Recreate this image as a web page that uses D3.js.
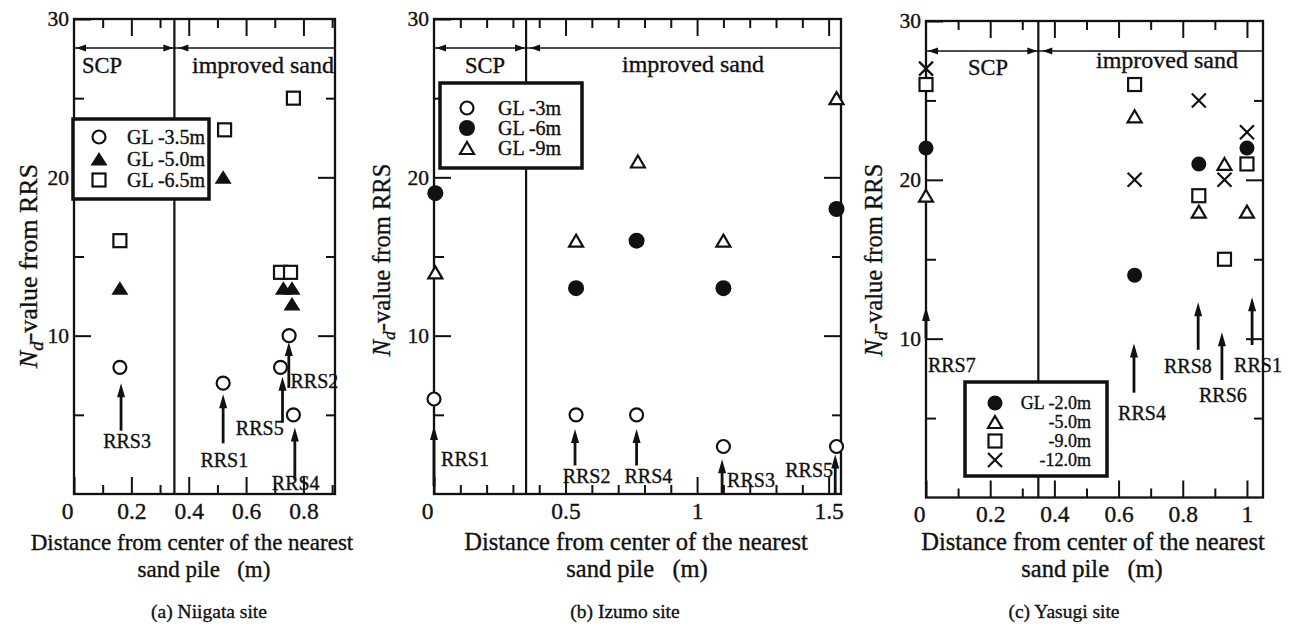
<!DOCTYPE html>
<html>
<head>
<meta charset="utf-8">
<script src="https://cdn.jsdelivr.net/npm/d3@7"></script>
<style>
html, body { margin: 0; background: #fff; }
svg { display: block; font-family: "Liberation Serif", "Times New Roman", Times, serif; }
text { fill: #111; stroke: #111; stroke-width: 0.35px; }
</style>
</head>
<body>
<svg id="chart" width="1291" height="631"></svg>
<script>
// Nd-value from RRS against distance from the nearest sand pile, three sites.
// Values.

// (a) Niigata site
const niigataLabels = ['GL -3.5m', 'GL -5.0m', 'GL -6.5m'];
const niigataGL35x = [0.16, 0.52, 0.72, 0.75, 0.765];
const niigataGL35y = [8, 7, 8, 10, 5];
const niigataGL50x = [0.16, 0.52, 0.73, 0.76, 0.76];
const niigataGL50y = [13, 20, 13, 13, 12];
const niigataGL65x = [0.16, 0.525, 0.72, 0.755, 0.765];
const niigataGL65y = [16, 23, 14, 14, 25];
const niigataRrs = ['RRS3', 'RRS1', 'RRS5', 'RRS2', 'RRS4'];
const niigataRrsX = [0.164, 0.52, 0.727, 0.749, 0.77];
const niigataRrsTail = [4.0, 3.2, 4.5, 6.7, 0.9];
const niigataRrsHead = [7.0, 6.3, 7.4, 9.6, 4.2];
const niigataRrsLabelX = [0.185, 0.524, 0.731, 0.755, 0.773];
const niigataRrsLabelY = [2.9, 1.7, 3.73, 6.7, 0.25];
const niigataRrsAnchor = ['middle', 'middle', 'end', 'start', 'middle'];

// (b) Izumo site
const izumoLabels = ['GL -3m', 'GL -6m', 'GL -9m'];
const izumoGL3x = [0, 0.54, 0.77, 1.1, 1.53];
const izumoGL3y = [6, 5, 5, 3, 3];
const izumoGL6x = [0.005, 0.54, 0.77, 1.1, 1.53];
const izumoGL6y = [19, 13, 16, 13, 18];
const izumoGL9x = [0.005, 0.54, 0.775, 1.1, 1.53];
const izumoGL9y = [14, 16, 21, 16, 25];
const izumoRrs = ['RRS1', 'RRS2', 'RRS4', 'RRS3', 'RRS5'];
const izumoRrsX = [0, 0.536, 0.77, 1.095, 1.525];
const izumoRrsTail = [0.5, 1.8, 1.8, 0, 0];
const izumoRrsHead = [4.3, 4.1, 4.1, 2.2, 2.5];
const izumoRrsLabelX = [0.027, 0.58, 0.815, 1.114, 1.517];
const izumoRrsLabelY = [1.77, 0.7, 0.7, 0.45, 1.07];
const izumoRrsAnchor = ['start', 'middle', 'middle', 'start', 'end'];

// (c) Yasugi site
const yasugiLabels = ['GL -2.0m', '-5.0m', '-9.0m', '-12.0m'];
const yasugiGL2x = [0, 0.65, 0.85, 1.0];
const yasugiGL2y = [22, 14, 21, 22];
const yasugiGL5x = [0, 0.65, 0.85, 0.93, 1.0];
const yasugiGL5y = [19, 24, 18, 21, 18];
const yasugiGL9x = [0, 0.65, 0.85, 0.93, 1.0];
const yasugiGL9y = [26, 26, 19, 15, 21];
const yasugiGL12x = [0, 0.65, 0.85, 0.93, 1.0];
const yasugiGL12y = [27, 20, 25, 20, 23];
const yasugiRrs = ['RRS7', 'RRS4', 'RRS8', 'RRS6', 'RRS1'];
const yasugiRrsX = [0, 0.648, 0.848, 0.922, 1.016];
const yasugiRrsTail = [10, 6.6, 9.3, 7.4, 9.6];
const yasugiRrsHead = [12.0, 9.7, 12.3, 10.4, 12.6];
const yasugiRrsLabelX = [0.006, 0.673, 0.816, 0.925, 0.96];
const yasugiRrsLabelY = [7.9, 4.9, 7.85, 6.0, 7.9];
const yasugiRrsAnchor = ['start', 'middle', 'middle', 'middle', 'start'];

const yMajor = [10, 20, 30];
const yMinor = [5, 15, 25];
const scpEdge = 0.35;

const INK = '#111';

const panels = [
    {
        box: [74, 335, 19, 494], xMax: 0.91,
        xMajor: [0, 0.2, 0.4, 0.6, 0.8], xMinor: [0.1, 0.3, 0.5, 0.7, 0.9],
        series: [
            { xs: niigataGL35x, ys: niigataGL35y, mark: 'circleOpen' },
            { xs: niigataGL65x, ys: niigataGL65y, mark: 'squareOpen' },
            { xs: niigataGL50x, ys: niigataGL50y, mark: 'triangleFilled' },
        ],
        legendOrder: ['circleOpen', 'triangleFilled', 'squareOpen'],
        labels: niigataLabels,
        rrs: [niigataRrs, niigataRrsX, niigataRrsTail, niigataRrsHead, niigataRrsLabelX, niigataRrsLabelY, niigataRrsAnchor],
        legend: { x: 73, y: 119, w: 136, h: 80, markX: 26, textX: 54, rows: [18, 40, 61], size: 20, anchor: 'start' },
        regionY: 48, scp: [82, 73], sand: [192, 73],
        yTitle: [28, 266, 26], xTitle: [192, 204, 23], caption: [209, '(a) Niigata site'],
    },
    {
        box: [434, 841, 19, 494], xMax: 1.547,
        xMajor: [0, 0.5, 1, 1.5], xMinor: [0.1, 0.2, 0.3, 0.4, 0.6, 0.7, 0.8, 0.9, 1.1, 1.2, 1.3, 1.4],
        series: [
            { xs: izumoGL3x, ys: izumoGL3y, mark: 'circleOpen' },
            { xs: izumoGL6x, ys: izumoGL6y, mark: 'circleFilled' },
            { xs: izumoGL9x, ys: izumoGL9y, mark: 'triangleOpen' },
        ],
        legendOrder: ['circleOpen', 'circleFilled', 'triangleOpen'],
        labels: izumoLabels,
        rrs: [izumoRrs, izumoRrsX, izumoRrsTail, izumoRrsHead, izumoRrsLabelX, izumoRrsLabelY, izumoRrsAnchor],
        legend: { x: 440, y: 83, w: 142, h: 85, markX: 27, textX: 58, rows: [25, 45, 65], size: 20, anchor: 'start' },
        regionY: 48, scp: [465, 73], sand: [622, 72],
        yTitle: [381, 260, 24.5], xTitle: [636, 637, 24.5], caption: [625, '(b) Izumo site'],
    },
    {
        box: [926, 1263, 21, 497.5], xMax: 1.05,
        xMajor: [0, 0.2, 0.4, 0.6, 0.8, 1], xMinor: [0.1, 0.3, 0.5, 0.7, 0.9],
        series: [
            { xs: yasugiGL9x, ys: yasugiGL9y, mark: 'squareOpen' },
            { xs: yasugiGL5x, ys: yasugiGL5y, mark: 'triangleOpen' },
            { xs: yasugiGL12x, ys: yasugiGL12y, mark: 'cross' },
            { xs: yasugiGL2x, ys: yasugiGL2y, mark: 'circleFilledSmall' },
        ],
        legendOrder: ['circleFilledSmall', 'triangleOpen', 'squareOpen', 'cross'],
        labels: yasugiLabels,
        rrs: [yasugiRrs, yasugiRrsX, yasugiRrsTail, yasugiRrsHead, yasugiRrsLabelX, yasugiRrsLabelY, yasugiRrsAnchor],
        legend: { x: 965, y: 382, w: 142, h: 94, markX: 30, textX: 126, rows: [21, 40, 59, 78], size: 18, anchor: 'end' },
        regionY: 51, scp: [968, 75], sand: [1096, 68],
        yTitle: [873, 260, 24.5], xTitle: [1093, 1092, 24.5], caption: [1064, '(c) Yasugi site'],
    },
];

const svg = d3.select('#chart');

function drawMark(g, type, cx, cy) {
    const m = g.append('g').attr('transform', `translate(${cx},${cy})`);
    if (type === 'circleOpen') {
        m.append('circle').attr('r', 6.5).attr('fill', '#fff').attr('stroke', INK).attr('stroke-width', 2.2);
    } else if (type === 'circleFilled') {
        m.append('circle').attr('r', 8).attr('fill', INK);
    } else if (type === 'circleFilledSmall') {
        m.append('circle').attr('r', 7.5).attr('fill', INK);
    } else if (type === 'triangleFilled') {
        m.append('path').attr('d', 'M0,-7L8.5,6.5L-8.5,6.5Z').attr('fill', INK);
    } else if (type === 'triangleOpen') {
        m.append('path').attr('d', 'M0,-6L7,6L-7,6Z').attr('fill', '#fff')
            .attr('stroke', INK).attr('stroke-width', 2.2).attr('stroke-linejoin', 'miter');
    } else if (type === 'squareOpen') {
        m.append('rect').attr('x', -6.5).attr('y', -6.5).attr('width', 13).attr('height', 13)
            .attr('fill', '#fff').attr('stroke', INK).attr('stroke-width', 2.2);
    } else if (type === 'cross') {
        m.append('path').attr('d', 'M-7,-7L7,7M-7,7L7,-7').attr('fill', 'none')
            .attr('stroke', INK).attr('stroke-width', 2.2);
    }
}

function upArrow(g, x, yTail, yTip) {
    const headLen = 14, half = 4;
    g.append('line').attr('x1', x).attr('x2', x).attr('y1', yTail).attr('y2', yTip + headLen - 2)
        .attr('stroke', INK).attr('stroke-width', 2.8);
    g.append('path').attr('d', `M${x},${yTip}L${x + half},${yTip + headLen}L${x - half},${yTip + headLen}Z`)
        .attr('fill', INK);
}

function sideHead(g, xTip, y, dir) {
    const len = 10, half = 3.5;
    g.append('path').attr('d', `M${xTip},${y}L${xTip - dir * len},${y - half}L${xTip - dir * len},${y + half}Z`)
        .attr('fill', INK);
}

panels.forEach((p) => {
    const [left, right, top, bottom] = p.box;
    const x = d3.scaleLinear().domain([0, p.xMax]).range([left, right]);
    const y = d3.scaleLinear().domain([0, 30]).range([bottom, top]);
    const g = svg.append('g');

    const styleAxis = (sel) => {
        sel.attr('font-size', null).attr('font-family', null).attr('color', INK);
        sel.select('.domain').remove();
        sel.selectAll('line').attr('stroke-width', 2);
    };

    // bottom / top ticks, pointing inward
    const gx = g.append('g').attr('transform', `translate(0,${bottom})`)
        .call(d3.axisBottom(x).tickValues(p.xMajor).tickSize(-17).tickPadding(8).tickFormat(d3.format('~g')))
        .call(styleAxis);
    gx.selectAll('text').style('font-size', '23.5px').filter((d) => d === 0).attr('dx', -7);
    g.append('g').attr('transform', `translate(0,${bottom})`)
        .call(d3.axisBottom(x).tickValues(p.xMinor).tickSize(-9).tickFormat('')).call(styleAxis);
    g.append('g').attr('transform', `translate(0,${top})`)
        .call(d3.axisTop(x).tickValues(p.xMajor.filter((v) => v > 0)).tickSize(-17).tickFormat('')).call(styleAxis);
    g.append('g').attr('transform', `translate(0,${top})`)
        .call(d3.axisTop(x).tickValues(p.xMinor).tickSize(-9).tickFormat('')).call(styleAxis);

    // left / right ticks
    const gy = g.append('g').attr('transform', `translate(${left},0)`)
        .call(d3.axisLeft(y).tickValues(yMajor).tickSize(-17).tickPadding(5))
        .call(styleAxis);
    gy.selectAll('text').style('font-size', '21.5px');
    g.append('g').attr('transform', `translate(${left},0)`)
        .call(d3.axisLeft(y).tickValues(yMinor).tickSize(-10).tickFormat('')).call(styleAxis);
    g.append('g').attr('transform', `translate(${right},0)`)
        .call(d3.axisRight(y).tickValues(yMajor.filter((v) => v < 30)).tickSize(-17).tickFormat('')).call(styleAxis);
    g.append('g').attr('transform', `translate(${right},0)`)
        .call(d3.axisRight(y).tickValues(yMinor).tickSize(-9).tickFormat('')).call(styleAxis);

    g.append('rect').attr('x', left).attr('y', top).attr('width', right - left).attr('height', bottom - top)
        .attr('fill', 'none').attr('stroke', INK).attr('stroke-width', 2.3);

    // SCP / improved sand boundary
    const xb = x(scpEdge);
    g.append('line').attr('x1', xb).attr('x2', xb).attr('y1', top).attr('y2', bottom)
        .attr('stroke', INK).attr('stroke-width', 2.2);

    const ry = p.regionY;
    g.append('line').attr('x1', left).attr('x2', right).attr('y1', ry).attr('y2', ry)
        .attr('stroke', INK).attr('stroke-width', 1.6);
    sideHead(g, left + 2, ry, -1);
    sideHead(g, xb - 1, ry, 1);
    sideHead(g, xb + 4, ry, -1);
    g.append('text').attr('x', p.scp[0]).attr('y', p.scp[1]).style('font-size', '22.5px').text('SCP');
    g.append('text').attr('x', p.sand[0]).attr('y', p.sand[1]).style('font-size', '24px').text('improved sand');

    // RRS arrows
    const [names, ax, tail, head, lx, ly, anchor] = p.rrs;
    names.forEach((name, i) => {
        upArrow(g, x(ax[i]), y(tail[i]), y(head[i]));
        g.append('text').attr('x', x(lx[i])).attr('y', y(ly[i])).attr('text-anchor', anchor[i])
            .style('font-size', '20px').text(name);
    });

    // data points
    p.series.forEach((s) => {
        s.xs.forEach((v, i) => drawMark(g, s.mark, x(v), y(s.ys[i])));
    });

    // legend
    const L = p.legend;
    const lg = g.append('g').attr('transform', `translate(${L.x},${L.y})`);
    lg.append('rect').attr('width', L.w).attr('height', L.h).attr('fill', '#fff')
        .attr('stroke', INK).attr('stroke-width', 3.5);
    p.legendOrder.forEach((mark, i) => {
        drawMark(lg, mark, L.markX, L.rows[i]);
        lg.append('text').attr('x', L.textX).attr('y', L.rows[i]).attr('dy', '0.35em')
            .attr('text-anchor', L.anchor).style('font-size', `${L.size}px`).text(p.labels[i]);
    });

    // axis titles
    const [tx, ty, ts] = p.yTitle;
    const yl = g.append('text').attr('transform', `translate(${tx},${ty}) rotate(-90)`)
        .attr('text-anchor', 'middle').attr('dy', '0.35em').style('font-size', `${ts}px`);
    yl.append('tspan').attr('font-style', 'italic').text('N');
    yl.append('tspan').attr('font-style', 'italic').attr('dy', ts * 0.22).style('font-size', `${ts * 0.72}px`).text('d');
    yl.append('tspan').attr('dy', -ts * 0.22).text('-value from RRS');

    const [x1c, x2c, xs] = p.xTitle;
    g.append('text').attr('x', x1c).attr('y', 550).attr('text-anchor', 'middle')
        .style('font-size', `${xs}px`).text('Distance from center of the nearest');
    g.append('text').attr('x', x2c).attr('y', 577).attr('text-anchor', 'middle')
        .style('font-size', `${xs}px`).style('white-space', 'pre').text('sand pile   (m)');

    g.append('text').attr('x', p.caption[0]).attr('y', 618).attr('text-anchor', 'middle')
        .style('font-size', '19.5px').text(p.caption[1]);
});
</script>
</body>
</html>
